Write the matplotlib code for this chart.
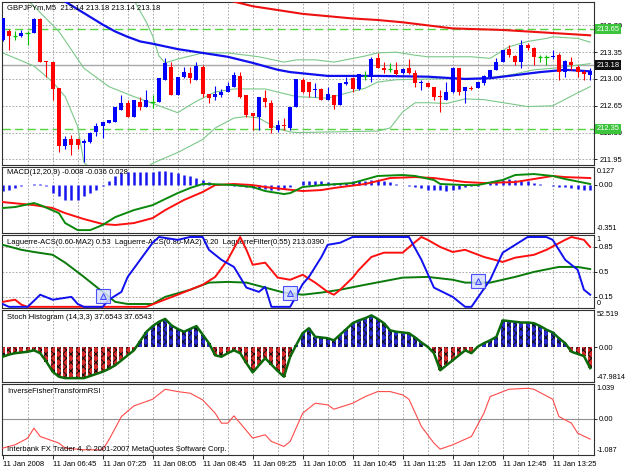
import matplotlib
matplotlib.use("Agg")
from matplotlib import pyplot as plt
from matplotlib import transforms

plt.rcParams['font.family'] = ['Liberation Sans', 'DejaVu Sans']
plt.rcParams['font.size'] = 5.5
plt.rcParams['hatch.linewidth'] = 0.7

# GBPJPYm M5, 11 Jan 2008, first bar 06:05 (bar index = 5 min step)
opens = [213.51, 213.62, 213.56, 213.56, 213.60, 213.60, 213.78, 213.23, 213.22, 212.88,
         212.12, 212.21, 212.21, 212.16, 212.18, 212.31, 212.39, 212.43, 212.44, 212.60,
         212.69, 212.51, 212.70, 212.64, 212.70, 212.70, 212.99, 213.16, 212.79, 213.03,
         213.08, 212.99, 213.16, 212.81, 212.77, 212.79, 212.83, 212.90, 213.04, 212.79,
         212.56, 212.51, 212.75, 212.69, 212.34, 212.40, 212.36, 212.64, 212.99, 212.96,
         212.86, 212.87, 212.73, 212.79, 212.66, 212.94, 213.01, 212.87, 213.04, 213.03,
         213.27, 213.14, 213.13, 213.12, 213.08, 213.14, 213.08, 212.95, 212.95, 212.90,
         212.78, 212.73, 212.83, 213.14, 212.84, 212.88, 212.88, 212.95, 213.03, 213.12,
         213.22, 213.39, 213.30, 213.22, 213.44, 213.40, 213.29, 213.29, 213.29, 213.31,
         213.09, 213.22, 213.16, 213.09, 213.05]
highs = [213.79, 213.65, 213.62, 213.64, 213.62, 213.79, 213.79, 213.23, 213.22, 212.88,
         212.25, 212.27, 212.21, 212.21, 212.31, 212.43, 212.44, 212.47, 212.64, 212.79,
         212.73, 212.73, 212.77, 212.86, 212.79, 213.01, 213.27, 213.22, 213.03, 213.16,
         213.16, 213.22, 213.18, 212.81, 212.91, 212.87, 212.96, 213.09, 213.09, 212.79,
         212.56, 212.77, 212.86, 212.73, 212.47, 212.49, 212.64, 213.00, 213.01, 212.96,
         212.95, 212.88, 212.90, 212.79, 212.95, 213.03, 213.03, 213.07, 213.10, 213.29,
         213.34, 213.22, 213.21, 213.22, 213.14, 213.26, 213.12, 212.99, 212.96, 212.90,
         212.86, 212.96, 213.16, 213.14, 212.90, 212.91, 212.96, 213.05, 213.12, 213.27,
         213.38, 213.44, 213.31, 213.51, 213.47, 213.42, 213.31, 213.31, 213.38, 213.34,
         213.25, 213.29, 213.18, 213.12, 213.14]
lows = [213.49, 213.38, 213.51, 213.55, 213.44, 213.60, 213.22, 213.03, 212.73, 212.05,
        212.08, 212.01, 212.08, 211.92, 212.17, 212.25, 212.23, 212.43, 212.44, 212.60,
        212.51, 212.51, 212.60, 212.64, 212.62, 212.70, 212.99, 212.79, 212.79, 213.01,
        212.95, 212.99, 212.77, 212.69, 212.73, 212.77, 212.83, 212.90, 212.75, 212.51,
        212.34, 212.34, 212.64, 212.30, 212.31, 212.34, 212.34, 212.64, 212.82, 212.77,
        212.77, 212.73, 212.73, 212.61, 212.66, 212.92, 212.83, 212.86, 212.99, 212.96,
        213.14, 213.08, 213.09, 213.05, 213.07, 213.07, 212.90, 212.86, 212.90, 212.73,
        212.57, 212.73, 212.82, 212.79, 212.69, 212.86, 212.88, 212.92, 213.03, 213.12,
        213.22, 213.29, 213.18, 213.14, 213.38, 213.18, 213.22, 213.18, 213.26, 212.99,
        213.03, 213.12, 213.03, 212.99, 212.99]
closes = [213.79, 213.56, 213.56, 213.60, 213.60, 213.78, 213.22, 213.22, 212.87, 212.12,
          212.21, 212.14, 212.14, 212.19, 212.30, 212.39, 212.44, 212.47, 212.64, 212.69,
          212.51, 212.73, 212.64, 212.73, 212.70, 213.01, 213.21, 212.79, 213.03, 213.09,
          213.01, 213.17, 212.81, 212.75, 212.81, 212.83, 212.91, 213.05, 212.77, 212.53,
          212.52, 212.77, 212.70, 212.36, 212.40, 212.38, 212.64, 213.00, 212.83, 212.83,
          212.87, 212.73, 212.81, 212.66, 212.95, 212.96, 212.87, 213.07, 213.04, 213.26,
          213.14, 213.12, 213.13, 213.07, 213.13, 213.08, 212.95, 212.96, 212.90, 212.77,
          212.77, 212.83, 213.14, 212.83, 212.90, 212.87, 212.96, 213.04, 213.12, 213.22,
          213.38, 213.31, 213.22, 213.44, 213.40, 213.29, 213.29, 213.29, 213.30, 213.09,
          213.23, 213.18, 213.09, 213.07, 213.10]

# moving averages / bollinger bands (read at a few bars)
ma_fast_x = [8, 10, 12, 14, 16, 18, 20, 22, 24, 28, 32, 36, 40, 44, 46, 52, 60, 68, 74, 78, 82, 86, 90, 94]
ma_fast = [214.08, 214.01, 213.91, 213.81, 213.71, 213.62, 213.55, 213.49, 213.46, 213.39, 213.34, 213.29,
           213.21, 213.12, 213.09, 213.04, 213.04, 213.03, 213.00, 213.01, 213.05, 213.09, 213.12, 213.10]
ma_slow_x = [36, 40, 44, 48, 52, 56, 60, 64, 68, 72, 76, 80, 84, 88, 94]
ma_slow = [214.03, 213.95, 213.90, 213.85, 213.82, 213.79, 213.77, 213.74, 213.70, 213.66, 213.65,
           213.64, 213.62, 213.60, 213.57]
bb_up_x = [20, 21, 23, 24, 25, 26, 28, 32, 36, 41, 45, 47, 50, 53, 58, 60, 63, 66, 68, 71, 75, 78, 81,
           84, 87, 88, 92, 94]
bb_up = [214.15, 214.03, 213.74, 213.56, 213.30, 213.21, 213.26, 213.34, 213.34, 213.29, 213.22, 213.25,
         213.25, 213.22, 213.30, 213.34, 213.35, 213.31, 213.29, 213.29, 213.29, 213.27, 213.42, 213.49,
         213.53, 213.55, 213.53, 213.48]
bb_mid_x = [3, 5, 9, 13, 17, 21, 24, 28, 31, 34, 37, 42, 45, 47, 52, 58, 60, 63, 68, 77, 81, 85, 88, 94]
bb_mid = [214.10, 213.95, 213.62, 213.14, 212.90, 212.77, 212.68, 212.56, 212.71, 212.83, 212.87, 212.87,
          212.81, 212.77, 212.75, 212.88, 212.96, 212.99, 213.00, 213.01, 213.05, 213.12, 213.14, 213.20]
bb_low_x = [0, 5, 8, 10, 12, 13, 16, 20, 24, 28, 32, 34, 37, 39, 41, 44, 46, 47, 60, 62, 64, 66, 68, 71,
            74, 77, 84, 88, 92, 94]
bb_low = [213.34, 213.17, 212.96, 212.77, 212.38, 211.91, 211.70, 211.65, 211.90, 212.04, 212.21, 212.36,
          212.49, 212.51, 212.49, 212.35, 212.31, 212.30, 212.32, 212.36, 212.57, 212.69, 212.69, 212.68,
          212.74, 212.73, 212.64, 212.65, 212.82, 212.90]
levels = [213.65, 212.35]
bid = 213.18
price_ticks = [213.70, 213.35, 213.00, 212.65, 212.30, 211.95]

# MACD(12,20,9)
macd_hist = [-0.048, -0.036, -0.024, -0.007, -0.002, 0.007, 0.007, -0.012, -0.060, -0.085,
             -0.109, -0.114, -0.109, -0.085, -0.060, -0.036, -0.007, 0.024, 0.060, 0.080,
             0.089, 0.089, 0.089, 0.092, 0.094, 0.097, 0.101, 0.089, 0.085, 0.072,
             0.065, 0.048, 0.031, 0.017, 0.007, 0.0, -0.005, -0.007, -0.012, -0.017,
             -0.024, -0.031, -0.031, -0.036, -0.036, -0.031, -0.017, 0.0, 0.024, 0.024,
             0.024, 0.024, 0.017, 0.010, 0.014, 0.014, 0.024, 0.029, 0.029, 0.034,
             0.034, 0.024, 0.017, 0.005, 0.0, -0.007, -0.019, -0.027, -0.039, -0.043,
             -0.043, -0.048, -0.043, -0.031, -0.019, -0.014, -0.007, 0.0, 0.010, 0.024,
             0.034, 0.039, 0.034, 0.034, 0.029, 0.014, 0.005, -0.005, -0.010, -0.019,
             -0.019, -0.024, -0.029, -0.039, -0.039]
macd_g_x = [0, 2, 5, 6, 9, 10, 12, 14, 16, 18, 21, 24, 26, 28, 30, 32, 33, 37, 40, 42, 45, 46, 48, 51,
            56, 60, 64, 66, 69, 70, 74, 76, 80, 82, 85, 88, 90, 94]
macd_g = [-0.170, -0.163, -0.134, -0.149, -0.207, -0.279, -0.330, -0.330, -0.293, -0.236, -0.185,
          -0.149, -0.105, -0.062, -0.025, 0.004, 0.004, -0.004, -0.018, -0.047, -0.069, -0.062,
          -0.018, -0.004, 0.011, 0.062, 0.069, 0.062, 0.033, 0.004, -0.004, -0.004, 0.033, 0.069,
          0.076, 0.062, 0.040, 0.004]
macd_r_x = [0, 5, 8, 10, 13, 16, 18, 21, 24, 26, 29, 32, 34, 37, 40, 42, 45, 48, 51, 53, 58, 62, 66,
            69, 74, 77, 82, 88, 90, 94]
macd_r = [-0.127, -0.149, -0.170, -0.207, -0.250, -0.286, -0.293, -0.279, -0.243, -0.185, -0.112,
          -0.054, -0.004, 0.004, -0.004, -0.018, -0.033, -0.047, -0.040, -0.025, 0.004, 0.047, 0.054,
          0.047, 0.018, 0.011, 0.018, 0.062, 0.054, 0.047]

# Laguerre ACS / filter
lag_b_x = [0, 1, 4, 6, 8, 11, 12, 13, 16, 17, 19, 20, 22, 24, 25, 28, 30, 32, 33, 35, 37, 39, 41, 42,
           43, 46, 48, 49, 51, 52, 54, 56, 65, 67, 69, 72, 74, 75, 78, 80, 82, 84, 87, 88, 90, 92, 93, 94]
lag_b = [0.05, 0.01, 0.01, 0.18, 0.11, 0.15, 0.05, 0.01, 0.01, 0.11, 0.22, 0.43, 0.67, 0.91, 0.99,
         0.95, 0.99, 0.99, 0.81, 0.67, 0.57, 0.28, 0.22, 0.29, 0.01, 0.01, 0.33, 0.43, 0.71, 0.88,
         0.91, 0.99, 0.99, 0.67, 0.28, 0.15, 0.01, 0.01, 0.39, 0.77, 0.88, 0.99, 0.99, 0.95, 0.67,
         0.53, 0.25, 0.18]
lag_r_x = [0, 2, 3, 4, 23, 25, 28, 32, 34, 36, 38, 39, 40, 42, 44, 46, 48, 50, 52, 53, 54, 56, 57, 59,
           61, 64, 66, 67, 68, 70, 72, 74, 77, 80, 82, 85, 87, 90, 91, 93, 94]
lag_r = [0.08, 0.11, 0.04, 0.01, 0.01, 0.08, 0.18, 0.32, 0.43, 0.67, 0.99, 0.81, 0.60, 0.63, 0.42,
         0.39, 0.46, 0.35, 0.22, 0.18, 0.25, 0.42, 0.53, 0.71, 0.77, 0.77, 0.92, 0.99, 0.95, 0.85,
         0.78, 0.81, 0.71, 0.64, 0.70, 0.74, 0.81, 0.95, 0.99, 0.95, 0.85]
lag_g_x = [0, 3, 5, 8, 10, 13, 16, 18, 20, 24, 26, 30, 33, 36, 39, 42, 45, 48, 51, 54, 58, 64, 68, 72,
           74, 78, 82, 85, 89, 92, 94]
lag_g = [0.88, 0.81, 0.78, 0.74, 0.63, 0.43, 0.22, 0.08, 0.05, 0.05, 0.15, 0.25, 0.35, 0.36, 0.35,
         0.28, 0.21, 0.18, 0.21, 0.25, 0.32, 0.42, 0.43, 0.39, 0.35, 0.35, 0.43, 0.50, 0.57, 0.57, 0.54]
signal_x = [16, 46, 76]
signal_y = [0.16, 0.20, 0.37]
lag_levels = [0.85, 0.5, 0.15]

# Stoch Histogram (14,3,3)
stoch = [-13, -10, -8, -7, -6, -4, -8, -20, -34, -41, -43, -43, -43, -43, -40, -37, -34, -30, -25, -18,
         -11, -4, 9, 22, 30, 36, 40, 31, 26, 22, 26, 30, 18, 6, -11, -13, -8, -4, -8, -22,
         -35, -25, -15, -24, -33, -41, -13, 4, 20, 27, 15, 14, 13, 10, 18, 26, 34, 38, 41, 45,
         40, 34, 24, 22, 21, 20, 14, 7, 1, -8, -32, -25, -18, -11, -4, -8, 1, 6, 10, 15,
         38, 37, 36, 35, 35, 34, 30, 25, 21, 13, 6, -6, -9, -12, -29]

# InverseFisherTransformRSI
rsi_x = [0, 2, 4, 5, 6, 9, 10, 13, 16, 17, 19, 21, 24, 26, 28, 30, 32, 34, 35, 36, 37, 38, 40, 42, 43,
         45, 46, 48, 50, 52, 53, 56, 58, 60, 62, 64, 65, 67, 69, 70, 72, 75, 77, 78, 81, 84, 85, 88,
         89, 91, 92, 94]
rsi = [-0.88, -0.78, -0.58, -0.28, -0.53, -0.73, -0.88, -0.93, -0.93, -0.63, 0.07, 0.39, 0.59, 0.89,
       0.82, 0.77, 0.57, 0.17, -0.13, -0.13, 0.09, -0.13, -0.58, -0.48, -0.68, -0.83, -0.68, 0.17,
       0.47, 0.42, 0.29, 0.47, 0.67, 0.82, 0.82, 0.72, 0.59, -0.23, -0.73, -0.91, -0.78, -0.53, 0.17,
       0.67, 0.89, 0.92, 0.89, 0.59, 0.07, -0.13, -0.43, -0.61]

time_ticks = list(range(0, 95, 8))
time_labels = ['11 Jan 2008', '11 Jan 06:45', '11 Jan 07:25', '11 Jan 08:05', '11 Jan 08:45',
               '11 Jan 09:25', '11 Jan 10:05', '11 Jan 10:45', '11 Jan 11:25', '11 Jan 12:05',
               '11 Jan 12:45', '11 Jan 13:25']

GRID = '#9c9c9c'
fig = plt.figure(figsize=(6.25, 4.69), dpi=100)


def panel(top, bottom):
    # pixel rows of the 625x469 screenshot
    ax = fig.add_axes([2 / 625, 1 - bottom / 469, 592.3 / 625, (bottom - top) / 469])
    ax.set_xlim(-0.11, 94.66)
    ax.yaxis.tick_right()
    ax.tick_params(axis='y', length=2, pad=1.5, labelsize=5.4, width=0.6)
    ax.set_xticks([])
    for s in ax.spines.values():
        s.set_linewidth(0.8)
        s.set_color('#303030')
    for b in range(4, 95, 4):
        ax.axvline(b, color=GRID, ls=(0, (2, 2)), lw=0.6, zorder=0)
    return ax


def edge_labels(ax, top_txt, bottom_txt):
    ax.text(1.004, 0.985, top_txt, transform=ax.transAxes, va='top', ha='left', fontsize=5.2)
    ax.text(1.004, 0.015, bottom_txt, transform=ax.transAxes, va='bottom', ha='left', fontsize=5.2)


# ---- main price chart
ax = panel(2, 165)
ax.set_ylim(211.877, 214.005)
ax.set_yticks(price_ticks)
ax.set_yticklabels(['%.2f' % p for p in price_ticks])
for p in price_ticks:
    ax.axhline(p, color=GRID, ls=(0, (2, 2)), lw=0.6, zorder=0)
for lv in levels:
    ax.axhline(lv, color='#55d43f', ls=(0, (6, 3)), lw=1.0, zorder=1)
ax.axhline(bid, color='#a8a8a8', lw=1.0, zorder=1)

ax.plot(bb_up_x, bb_up, color='#7cc88a', lw=0.8, zorder=2)
ax.plot(bb_mid_x, bb_mid, color='#7cc88a', lw=0.8, zorder=2)
ax.plot(bb_low_x, bb_low, color='#7cc88a', lw=0.8, zorder=2)
ax.plot(ma_slow_x, ma_slow, color='#ee1111', lw=1.5, zorder=3)
ax.plot(ma_fast_x, ma_fast, color='#1010ee', lw=1.6, zorder=3)

for i in range(len(opens)):
    o, h, l, c = opens[i], highs[i], lows[i], closes[i]
    if c > o:
        col = '#0000ff'
    elif c < o:
        col = '#ff0000'
    else:
        col = '#00c000'
    ax.vlines(i, l, h, color=col, lw=0.8, zorder=4)
    if c == o:
        ax.hlines(o, i - 0.35, i + 0.35, color=col, lw=0.9, zorder=4)
    else:
        ax.bar(i, max(abs(c - o), 0.012), bottom=min(o, c), width=0.62, color=col, lw=0, zorder=5)

tr = transforms.blended_transform_factory(ax.transAxes, ax.transData)
for lv in levels:
    ax.text(1.004, lv, '%.2f' % lv, transform=tr, va='center', ha='left', color='white', fontsize=5.4,
            bbox=dict(boxstyle='square,pad=0.2', fc='#3cc43c', ec='none'), zorder=10)
ax.text(1.004, bid, '%.2f' % bid, transform=tr, va='center', ha='left', color='white', fontsize=5.4,
        bbox=dict(boxstyle='square,pad=0.2', fc='#101010', ec='none'), zorder=10)
ax.text(0.0085, 0.968, 'GBPJPYm,M5  213.14 213.18 213.14 213.18', transform=ax.transAxes,
        va='center', ha='left', fontsize=5.5, zorder=11)

# ---- MACD
ax = panel(167, 233)
ax.set_ylim(-0.351, 0.127)
ax.set_yticks([0.0])
ax.set_yticklabels(['0.00'])
edge_labels(ax, '0.127', '-0.351')
ax.vlines(range(len(macd_hist)), 0, macd_hist, color='#1515f0', lw=1.8, zorder=2)
ax.plot(macd_r_x, macd_r, color='#ff1010', lw=1.4, zorder=3)
ax.plot(macd_g_x, macd_g, color='#0a8a0a', lw=1.4, zorder=3)
ax.text(0.0085, 0.91, 'MACD(12,20,9) -0.008 -0.036 0.028', transform=ax.transAxes,
        va='center', ha='left', fontsize=5.5, zorder=1)

# ---- Laguerre
ax = panel(235, 307.7)
ax.set_ylim(-0.002, 1.018)
ax.set_yticks(lag_levels)
ax.set_yticklabels(['0.85', '0.5', '0.15'])
edge_labels(ax, '1', '0')
for lv in lag_levels:
    ax.axhline(lv, color=GRID, ls=(0, (2, 2)), lw=0.6, zorder=0)
ax.text(0.0085, 0.895,
        'Laguerre-ACS(0.60-MA2) 0.53  Laguerre-ACS(0.80-MA2) 0.20  LaguerreFilter(0.55) 213.0390',
        transform=ax.transAxes, va='center', ha='left', fontsize=5.5, zorder=1)
ax.plot(lag_g_x, lag_g, color='#0a7a0a', lw=1.4, zorder=3)
ax.plot(lag_r_x, lag_r, color='#ff1010', lw=1.4, zorder=3)
ax.plot(lag_b_x, lag_b, color='#1010f0', lw=1.4, zorder=3)
ax.plot(signal_x, signal_y, ls='none', marker='s', ms=9.5, mfc='#d8e0ff', mec='#3030ff', mew=0.8,
        alpha=0.85, zorder=4)
ax.plot(signal_x, signal_y, ls='none', marker='^', ms=4, mfc='#b0c0ff', mec='#3030ff', mew=0.6,
        zorder=5)

# ---- Stoch histogram
ax = panel(310, 381.7)
ax.set_ylim(-47.9814, 52.519)
ax.set_yticks([0.0])
ax.set_yticklabels(['0.00'])
edge_labels(ax, '52.519', '-47.9814')
cols = ['#2a2ad0' if v > 0 else '#d42a2a' for v in stoch]
ax.bar(range(len(stoch)), stoch, width=0.62, color=cols, edgecolor='#101010', hatch='xxxx', lw=0,
       zorder=2)
ax.plot(range(len(stoch)), stoch, color='#0a6a0a', lw=1.8, zorder=3)
ax.text(0.0085, 0.898, 'Stoch Histogram (14,3,3) 37.6543 37.6543', transform=ax.transAxes,
        va='center', ha='left', fontsize=5.5, zorder=4)

# ---- Inverse Fisher RSI
ax = panel(384.3, 455)
ax.set_ylim(-1.087, 1.039)
ax.set_yticks([0.0])
ax.set_yticklabels(['0.00'])
edge_labels(ax, '1.039', '-1.087')
ax.axhline(0, color='#909090', lw=0.8, zorder=1)
ax.plot(rsi_x, rsi, color='#ff4a4a', lw=0.8, zorder=3)
ax.text(0.0085, 0.895, 'InverseFisherTransformRSI', transform=ax.transAxes,
        va='center', ha='left', fontsize=5.5)
ax.text(0.0085, 0.085, 'Interbank FX Trader 4, \u00a9 2001-2007 MetaQuotes Software Corp.',
        transform=ax.transAxes, va='center', ha='left', fontsize=5.5, zorder=4)
ax.set_xticks(time_ticks)
ax.set_xticklabels(time_labels, ha='left')
ax.tick_params(axis='x', length=3, pad=1.5, labelsize=5.5, width=0.6)

fig.savefig('out.png', dpi=100, facecolor='white')
